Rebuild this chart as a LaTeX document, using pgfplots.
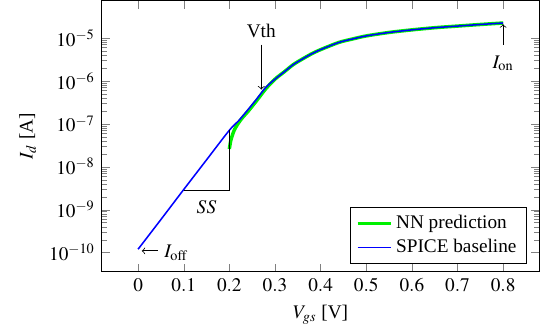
\documentclass[border=0pt]{standalone}
\usepackage{mathptmx}
\usepackage[no-math]{fontspec}
\setmainfont{Liberation Serif}
\usepackage{pgfplots}
\pgfplotsset{compat=1.18}
\begin{document}
\begin{tikzpicture}
\begin{axis}[
  scale only axis,
  width=227.5pt, height=141pt,
  ymode=log,
  enlarge x limits=0.1,
  enlarge y limits=0.1,
  xtick={0,0.1,...,0.8},
  xticklabel style={/pgf/number format/fixed},
  ytick={1e-10,1e-9,1e-8,1e-7,1e-6,1e-5},
  xlabel={$V_{gs}$ [V]},
  ylabel={$I_d$ [A]},
  legend pos=south east,
  legend cell align=left,
]
\addplot[color={rgb,255:red,0;green,240;blue,0}, line width=1.8pt, smooth] coordinates {
(0.200,2.6e-8) (0.203,4.0e-8) (0.207,5.6e-8) (0.212,7.6e-8) (0.22,1.05e-7)
(0.23,1.45e-7) (0.24,1.9e-7) (0.26,3.5e-7) (0.28,6.6e-7)
(0.30,1.10e-6) (0.32,1.62e-6) (0.34,2.40e-6) (0.36,3.24e-6) (0.38,4.27e-6)
(0.40,5.37e-6) (0.44,7.9e-6) (0.47,9.5e-6) (0.50,1.12e-5) (0.55,1.35e-5)
(0.60,1.55e-5) (0.65,1.74e-5) (0.70,1.9e-5) (0.75,2.07e-5) (0.80,2.24e-5)
};
\addlegendentry{NN prediction}
\addplot[color={rgb,255:red,0;green,0;blue,255}, line width=0.8pt, smooth] coordinates {
(0,1.2e-10) (0.05,5.9e-10) (0.1,2.95e-9) (0.15,1.45e-8) (0.2,7.1e-8)
(0.22,1.17e-7) (0.24,2.09e-7) (0.26,3.8e-7) (0.28,7.1e-7)
(0.30,1.10e-6) (0.32,1.62e-6) (0.34,2.40e-6) (0.36,3.24e-6) (0.38,4.27e-6)
(0.40,5.37e-6) (0.44,7.9e-6) (0.47,9.5e-6) (0.50,1.12e-5) (0.55,1.35e-5)
(0.60,1.55e-5) (0.65,1.74e-5) (0.70,1.9e-5) (0.75,2.07e-5) (0.80,2.24e-5)
};
\addlegendentry{SPICE baseline}
\draw[black] (axis cs:0.1,2.75e-9) -- (axis cs:0.2,2.75e-9) -- (axis cs:0.2,7.1e-8);
\node at (axis cs:0.15,1.15e-9) {$SS$};
\draw[->, black] (axis cs:0.27,7.0e-6) -- (axis cs:0.27,6.3e-7);
\node[anchor=south] at (axis cs:0.27,7.0e-6) {Vth};
\draw[->, black] (axis cs:0.8,6.9e-6) -- (axis cs:0.8,2.1e-5);
\node[anchor=north, yshift=-2pt] at (axis cs:0.8,6.9e-6) {$I_{\mathrm{on}}$};
\draw[->, black] (axis cs:0.043,1.1e-10) -- (axis cs:0.008,1.1e-10);
\node[anchor=west] at (axis cs:0.043,1.0e-10) {$I_{\mathrm{off}}$};
\end{axis}
\path ([xshift=-6.7pt,yshift=-2.6pt]current bounding box.south west) rectangle (current bounding box.north east);
\end{tikzpicture}
\end{document}
